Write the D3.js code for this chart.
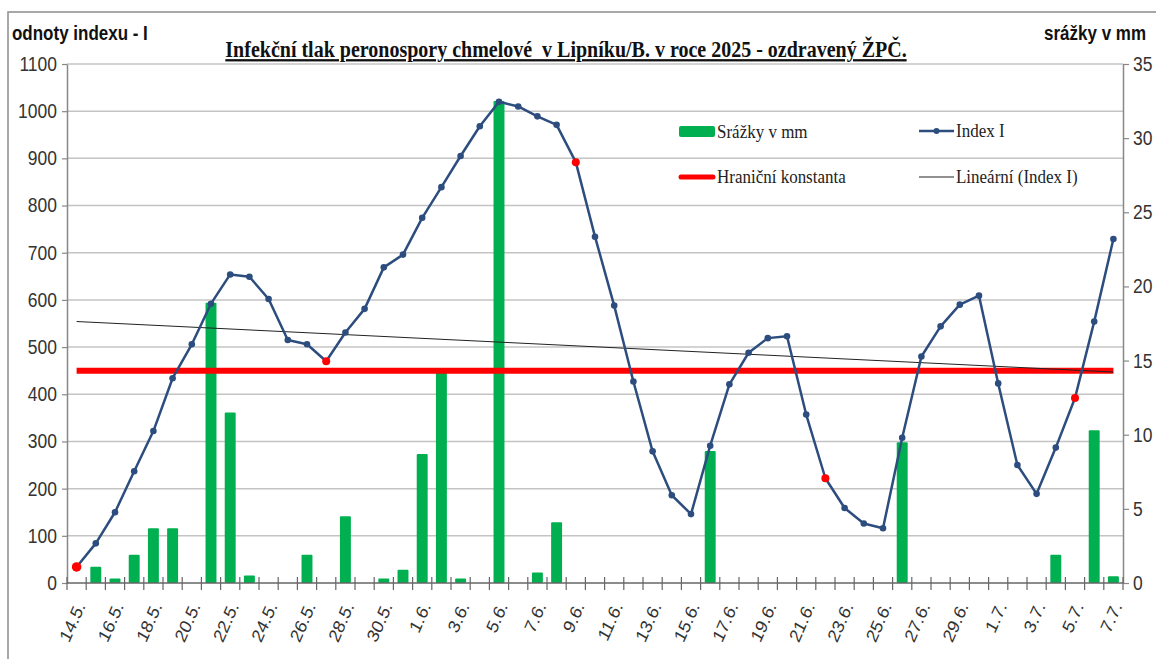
<!DOCTYPE html>
<html>
<head>
<meta charset="utf-8">
<script src="https://cdn.jsdelivr.net/npm/d3@7"></script>
<style>
  body { margin: 0; background: #fff; }
  svg { display: block; }
</style>
</head>
<body>
<svg id="chart"></svg>
<script>
// categories (days)
const dates = [
  "14.5.", "15.5.", "16.5.", "17.5.", "18.5.", "19.5.", "20.5.", "21.5.", "22.5.", "23.5.",
  "24.5.", "25.5.", "26.5.", "27.5.", "28.5.", "29.5.", "30.5.", "31.5.",
  "1.6.", "2.6.", "3.6.", "4.6.", "5.6.", "6.6.", "7.6.", "8.6.", "9.6.", "10.6.",
  "11.6.", "12.6.", "13.6.", "14.6.", "15.6.", "16.6.", "17.6.", "18.6.", "19.6.", "20.6.",
  "21.6.", "22.6.", "23.6.", "24.6.", "25.6.", "26.6.", "27.6.", "28.6.", "29.6.", "30.6.",
  "1.7.", "2.7.", "3.7.", "4.7.", "5.7.", "6.7.", "7.7."
];

// Index I (left axis)
const indexI = [
  34, 84, 150, 237, 322, 434, 506, 592, 654, 649,
  602, 515, 506, 470, 531, 581, 669, 696, 774, 839,
  905, 968, 1020, 1010, 989, 971, 892, 734, 588, 427,
  279, 186, 146, 291, 421, 488, 519, 523, 357, 222,
  159, 126, 116, 308, 480, 544, 590, 609, 423, 250,
  189, 287, 392, 554, 729
];

// Srážky v mm (right axis)
const rain = [
  0, 1.1, 0.3, 1.9, 3.7, 3.7, 0, 18.9, 11.5, 0.5,
  0, 0, 1.9, 0, 4.5, 0, 0.3, 0.9, 8.7, 14.2,
  0.3, 0, 32.5, 0, 0.7, 4.1, 0, 0, 0, 0,
  0, 0, 0, 8.9, 0, 0, 0, 0, 0, 0,
  0, 0, 0, 9.5, 0, 0, 0, 0, 0, 0,
  0, 1.9, 0, 10.3, 0.45
];

// Hraniční konstanta
const threshold = 450;

// points drawn in red
const markedDates = ["14.5.", "27.5.", "9.6.", "22.6.", "5.7."];

const leftTicks = [0, 100, 200, 300, 400, 500, 600, 700, 800, 900, 1000, 1100];
const rightTicks = [0, 5, 10, 15, 20, 25, 30, 35];
const xTickLabels = [
  "14.5.", "16.5.", "18.5.", "20.5.", "22.5.", "24.5.", "26.5.", "28.5.", "30.5.",
  "1.6.", "3.6.", "5.6.", "7.6.", "9.6.", "11.6.", "13.6.", "15.6.", "17.6.", "19.6.",
  "21.6.", "23.6.", "25.6.", "27.6.", "29.6.", "1.7.", "3.7.", "5.7.", "7.7."
];

const W = 1156, H = 659;
const plot = { left: 67, right: 1123, top: 64, bottom: 583 };
const SY = 1.15; // texts in the picture look a bit tall
const serif = "'Times New Roman', 'Liberation Serif', serif";
const sans = "Arial, 'Liberation Sans', sans-serif";
const blue = "#2c4d7e";
const green = "#00b050";
const red = "#ff0000";

const svg = d3.select("#chart").attr("width", W).attr("height", H);

const x = d3.scaleBand()
    .domain(dates)
    .range([plot.left, plot.right])
    .paddingInner(0.43)
    .paddingOuter(0.215);
const cx = d => x(d) + x.bandwidth() / 2;
const y = d3.scaleLinear().domain([0, 1100]).range([plot.bottom, plot.top]);
const yR = d3.scaleLinear().domain([0, 35]).range([plot.bottom, plot.top]);

function text(g, str, px, py) {
    return g.append("text")
        .attr("transform", `translate(${px},${py}) scale(1,${SY})`)
        .style("white-space", "pre")
        .text(str);
}

// chart border
svg.append("rect")
    .attr("x", 8).attr("y", 12)
    .attr("width", W).attr("height", H)
    .attr("fill", "none")
    .attr("stroke", "#8c8c8c")
    .attr("stroke-width", 1.5);

// gridlines
svg.append("g").selectAll("line")
    .data(leftTicks.filter(v => v > 0))
    .join("line")
    .attr("x1", plot.left).attr("x2", plot.right)
    .attr("y1", d => y(d)).attr("y2", d => y(d))
    .attr("stroke", "#c4c4c4")
    .attr("stroke-width", 1.5);

// rain bars
svg.append("g").selectAll("rect")
    .data(dates.map((d, i) => ({ d, v: rain[i] })).filter(e => e.v > 0))
    .join("rect")
    .attr("x", e => x(e.d))
    .attr("width", x.bandwidth())
    .attr("y", e => yR(e.v))
    .attr("height", e => yR(0) - yR(e.v))
    .attr("rx", 1)
    .attr("fill", green);

// left axis
const gL = svg.append("g")
    .attr("transform", `translate(${plot.left},0)`)
    .call(d3.axisLeft(y).tickValues(leftTicks).tickFormat(d3.format("d"))
        .tickSize(5).tickPadding(5).tickSizeOuter(0));
gL.select(".domain").attr("stroke", "#888").attr("stroke-width", 1.5);
gL.selectAll(".tick line").attr("stroke", "#888").attr("stroke-width", 1.2);
gL.selectAll("text")
    .attr("font-family", sans).attr("font-size", 17.5).attr("fill", "#333")
    .attr("transform", `scale(1,${SY})`);

// right axis
const gR = svg.append("g")
    .attr("transform", `translate(${plot.right},0)`)
    .call(d3.axisRight(yR).tickValues(rightTicks).tickSize(6).tickPadding(4).tickSizeOuter(0));
gR.select(".domain").attr("stroke", "#888").attr("stroke-width", 1.5);
gR.selectAll(".tick line").attr("stroke", "#888").attr("stroke-width", 1.2);
gR.selectAll("text")
    .attr("font-family", sans).attr("font-size", 17.5).attr("fill", "#333")
    .attr("transform", `scale(1,${SY})`);

// x axis line + category ticks
const half = (x.step() - x.bandwidth()) / 2;
const bounds = dates.map(d => x(d) - half).concat([x(dates[dates.length - 1]) + x.bandwidth() + half]);
const gX = svg.append("g").attr("transform", `translate(0,${plot.bottom})`);
gX.append("line")
    .attr("x1", plot.left).attr("x2", plot.right)
    .attr("stroke", "#666").attr("stroke-width", 1.5);
gX.selectAll(".cat-tick")
    .data(bounds)
    .join("line")
    .attr("class", "cat-tick")
    .attr("x1", d => d).attr("x2", d => d)
    .attr("y1", -6).attr("y2", 7)
    .attr("stroke", "#666").attr("stroke-width", 1.2);

const gXL = svg.append("g")
    .attr("transform", `translate(0,${plot.bottom})`)
    .call(d3.axisBottom(x).tickValues(xTickLabels).tickSize(0).tickPadding(0));
gXL.select(".domain").remove();
gXL.selectAll("text")
    .attr("x", 0).attr("y", 0).attr("dy", "0.35em")
    .attr("text-anchor", "end")
    .attr("font-family", sans).attr("font-size", 16.5).attr("fill", "#333")
    .attr("transform", `translate(4,20) scale(1,${SY}) rotate(-63)`);

// threshold line
svg.append("line")
    .attr("x1", cx(dates[0])).attr("x2", cx(dates[dates.length - 1]))
    .attr("y1", y(threshold)).attr("y2", y(threshold))
    .attr("stroke", red).attr("stroke-width", 6);

// linear trend of Index I
const idx = indexI.map((v, i) => i);
const xm = d3.mean(idx), ym = d3.mean(indexI);
const slope = d3.sum(indexI, (v, i) => (i - xm) * (v - ym)) / d3.sum(idx, i => (i - xm) ** 2);
const icpt = ym - slope * xm;
svg.append("line")
    .attr("x1", cx(dates[0])).attr("y1", y(icpt))
    .attr("x2", cx(dates[dates.length - 1])).attr("y2", y(icpt + slope * (dates.length - 1)))
    .attr("stroke", "#222").attr("stroke-width", 1);

// Index I line
svg.append("path")
    .datum(indexI)
    .attr("d", d3.line().x((v, i) => cx(dates[i])).y(v => y(v)))
    .attr("fill", "none")
    .attr("stroke", blue)
    .attr("stroke-width", 2.5)
    .attr("stroke-linejoin", "round");

const pts = dates.map((d, i) => ({ d, v: indexI[i], marked: markedDates.includes(d) }));
svg.append("g").selectAll("circle")
    .data(pts)
    .join("circle")
    .attr("cx", p => cx(p.d))
    .attr("cy", p => y(p.v))
    .attr("r", p => p.marked ? (p.d === dates[0] ? 4.8 : 4) : 3.3)
    .attr("fill", p => p.marked ? red : blue);

// legend
const lg = svg.append("g").attr("font-family", serif).attr("font-size", 17).attr("fill", "#222");
lg.append("rect").attr("x", 679).attr("y", 126).attr("width", 36).attr("height", 11).attr("rx", 2).attr("fill", green);
text(lg, "Srážky v mm", 717, 138);
lg.append("line").attr("x1", 681).attr("x2", 713).attr("y1", 177).attr("y2", 177)
    .attr("stroke", red).attr("stroke-width", 5).attr("stroke-linecap", "round");
text(lg, "Hraniční konstanta", 717, 183);
lg.append("line").attr("x1", 919).attr("x2", 954).attr("y1", 131).attr("y2", 131)
    .attr("stroke", blue).attr("stroke-width", 2.5);
lg.append("circle").attr("cx", 936.5).attr("cy", 131).attr("r", 3).attr("fill", blue);
text(lg, "Index I", 956, 137);
lg.append("line").attr("x1", 919).attr("x2", 954).attr("y1", 177).attr("y2", 177)
    .attr("stroke", "#222").attr("stroke-width", 1);
text(lg, "Lineární (Index I)", 956, 183);

// titles
text(svg, "Infekční tlak peronospory chmelové  v Lipníku/B. v roce 2025 - ozdravený ŽPČ.", 566, 57)
    .attr("text-anchor", "middle")
    .attr("font-family", serif).attr("font-size", 20).attr("font-weight", "bold")
    .attr("text-decoration", "underline").attr("fill", "#111");
text(svg, "odnoty indexu - I", 12, 40)
    .attr("font-family", sans).attr("font-size", 17).attr("font-weight", "bold").attr("fill", "#111");
text(svg, "srážky v mm", 1146, 40)
    .attr("text-anchor", "end")
    .attr("font-family", sans).attr("font-size", 17).attr("font-weight", "bold").attr("fill", "#111");
</script>
</body>
</html>
